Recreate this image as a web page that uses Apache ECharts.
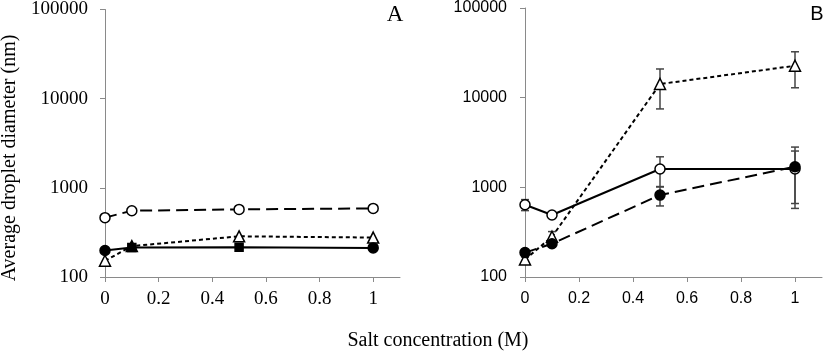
<!DOCTYPE html>
<html>
<head>
<meta charset="utf-8">
<script src="https://cdn.jsdelivr.net/npm/echarts@6/dist/echarts.min.js"></script>
<style>html,body{margin:0;padding:0;background:#fff}#c{width:825px;height:352px}</style>
</head>
<body>
<div id="c"></div>
<script>
// Salt concentration (M)
const saltX = [0, 0.1, 0.5, 1];
const xTickVals = [0, 0.2, 0.4, 0.6, 0.8, 1];
const yTickVals = [100, 1000, 10000, 100000];

// Panel A
const aOpenCircle = [463, 554, 573, 588];
const aTriangle = [152, 222, 286, 277];
const aFilledCircle = [198, 214, 216, 212];

// Panel B
const bOpenCircle = [640, 491, 1600, 1600];
const bOpenCircleErr = [90, 35, 590, 940];
const bFilledCircle = [187, 235, 820, 1697];
const bFilledCircleErr = [15, 15, 200, 1115];
const bTriangle = [157, 281, 14190, 22690];
const bTriangleErr = [10, 40, 6700, 9800];

const pts = (vals) => saltX.map((x, i) => [x, vals[i]]);
const errPts = (vals, errs) => saltX.map((x, i) => [x, vals[i] - errs[i], vals[i] + errs[i]]);

const chart = echarts.init(document.getElementById('c'), null, {renderer: 'canvas'});

function xAxisDef(gridIndex, font, size, margin) {
  return {
    type: 'value', gridIndex, min: 0, max: 1.1, interval: 0.2,
    axisLine: {show: true, onZero: false, lineStyle: {color: '#8a8a8a', width: 1}},
    axisTick: {show: true, inside: false, length: 5, customValues: xTickVals, lineStyle: {color: '#8a8a8a'}},
    axisLabel: {customValues: xTickVals, margin, color: '#000', fontFamily: font, fontSize: size,
      formatter: v => String(v)},
    splitLine: {show: false}
  };
}
function yAxisDef(gridIndex, font, size, margin) {
  return {
    type: 'log', logBase: 10, gridIndex, min: 100, max: 100000,
    axisLine: {show: true, lineStyle: {color: '#8a8a8a', width: 1}},
    axisTick: {show: true, inside: false, length: 5, lineStyle: {color: '#8a8a8a'}},
    axisLabel: {margin, color: '#000', fontFamily: font, fontSize: size,
      formatter: v => String(Math.round(v))},
    minorTick: {show: false},
    splitLine: {show: false}
  };
}

const LONG = [12, 6];
const SHORT = [4, 3];

function lineSeries(idx, data, dash, symbol, fill, size, extra) {
  return Object.assign({
    type: 'line', xAxisIndex: idx, yAxisIndex: idx, data,
    symbol, symbolSize: size, showAllSymbol: true,
    lineStyle: {color: '#000', width: 2, type: dash},
    itemStyle: {color: fill, borderColor: '#000', borderWidth: 1.5},
    emphasis: {disabled: true}, animation: false, z: 3
  }, extra || {});
}

function errSeries(idx, data) {
  return {
    type: 'custom', xAxisIndex: idx, yAxisIndex: idx, data,
    encode: {x: 0, y: [1, 2]}, animation: false, z: 2,
    renderItem: (params, api) => {
      const x = api.value(0);
      const lo = api.coord([x, api.value(1)]);
      const hi = api.coord([x, api.value(2)]);
      const w = 4;
      const st = {stroke: '#444', lineWidth: 1.5};
      return {
        type: 'group',
        children: [
          {type: 'line', shape: {x1: lo[0], y1: lo[1], x2: hi[0], y2: hi[1]}, style: st},
          {type: 'line', shape: {x1: hi[0] - w, y1: hi[1], x2: hi[0] + w, y2: hi[1]}, style: st},
          {type: 'line', shape: {x1: lo[0] - w, y1: lo[1], x2: lo[0] + w, y2: lo[1]}, style: st}
        ]
      };
    }
  };
}

// Panel A solid series markers (square-looking at 0.1 and 0.5)
const aFilledData = pts(aFilledCircle).map((p, i) => ({value: p, symbol: (i === 1 || i === 2) ? 'rect' : 'circle', symbolSize: (i === 1 || i === 2) ? 8 : 10}));
const aTriData = pts(aTriangle).map((p, i) => i === 1 ? {value: p, itemStyle: {color: '#000'}} : {value: p});

const option = {
  backgroundColor: '#fff',
  animation: false,
  grid: [
    {left: 105, top: 8, width: 295, height: 269},
    {left: 525, top: 8, width: 297, height: 269}
  ],
  xAxis: [xAxisDef(0, 'Liberation Serif', 19, 13), xAxisDef(1, 'Liberation Sans', 16, 14)],
  yAxis: [yAxisDef(0, 'Liberation Serif', 19, 17), yAxisDef(1, 'Liberation Sans', 16, 18)],
  series: [
    lineSeries(0, aTriData, SHORT, 'triangle', '#fff', 11),
    lineSeries(0, aFilledData, 'solid', 'circle', '#000', 10),
    lineSeries(0, pts(aOpenCircle), LONG, 'circle', '#fff', 10),

    errSeries(1, errPts(bTriangle, bTriangleErr)),
    errSeries(1, errPts(bOpenCircle, bOpenCircleErr)),
    errSeries(1, errPts(bFilledCircle, bFilledCircleErr)),
    lineSeries(1, pts(bOpenCircle), 'solid', 'circle', '#fff', 10),
    lineSeries(1, pts(bTriangle), SHORT, 'triangle', '#fff', 11),
    lineSeries(1, pts(bFilledCircle), LONG, 'circle', '#000', 10)
  ],
  graphic: [
    {type: 'text', x: 395, y: 15, style: {text: 'A', font: '23px "Liberation Serif"', fill: '#000', textAlign: 'center', textVerticalAlign: 'middle'}},
    {type: 'text', x: 817, y: 14, style: {text: 'B', font: '20px "Liberation Sans"', fill: '#000', textAlign: 'center', textVerticalAlign: 'middle'}},
    {type: 'text', x: 438, y: 341, style: {text: 'Salt concentration (M)', font: '20px "Liberation Serif"', fill: '#000', textAlign: 'center', textVerticalAlign: 'middle'}},
    {type: 'text', x: 10, y: 158, rotation: Math.PI / 2, style: {text: 'Average droplet diameter (nm)', font: '20px "Liberation Serif"', fill: '#000', textAlign: 'center', textVerticalAlign: 'middle'}}
  ]
};
chart.setOption(option);
</script>
</body>
</html>
